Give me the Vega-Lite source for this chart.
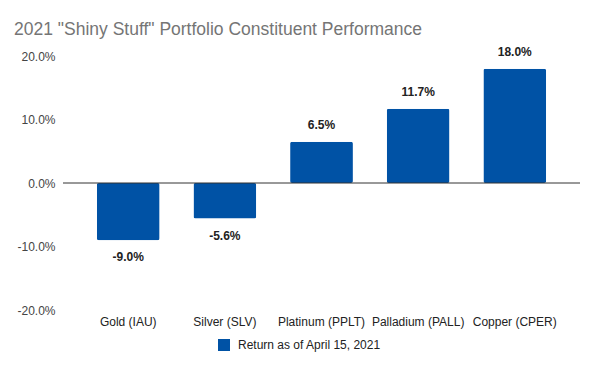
{
  "$schema": "https://vega.github.io/schema/vega-lite/v6.json",
  "autosize": {"type": "none"},
  "width": 517,
  "height": 254,
  "padding": {"left": 63, "top": 56, "right": 20, "bottom": 61},
  "background": "white",
  "title": {
    "text": "2021 \"Shiny Stuff\" Portfolio Constituent Performance",
    "anchor": "start",
    "frame": "group",
    "dx": -49,
    "offset": 7,
    "font": "Liberation Sans",
    "fontSize": 17.5,
    "fontWeight": "normal",
    "color": "#757575"
  },
  "config": {
    "view": {"stroke": null},
    "locale": {"number": {"decimal": ".", "thousands": ",", "grouping": [3], "currency": ["$", ""], "minus": "-"}},
    "font": "Liberation Sans"
  },
  "data": {
    "values": [
      {"metal": "Gold (IAU)", "value": -0.090, "series": "Return as of April 15, 2021"},
      {"metal": "Silver (SLV)", "value": -0.056, "series": "Return as of April 15, 2021"},
      {"metal": "Platinum (PPLT)", "value": 0.065, "series": "Return as of April 15, 2021"},
      {"metal": "Palladium (PALL)", "value": 0.117, "series": "Return as of April 15, 2021"},
      {"metal": "Copper (CPER)", "value": 0.180, "series": "Return as of April 15, 2021"}
    ]
  },
  "encoding": {
    "x": {
      "field": "metal",
      "type": "nominal",
      "sort": null,
      "scale": {"paddingInner": 0.35, "paddingOuter": 0.35},
      "axis": {
        "title": null,
        "domain": false,
        "ticks": false,
        "labelAngle": 0,
        "labelPadding": 6,
        "labelFontSize": 12,
        "labelColor": "#222222",
        "labelFont": "Liberation Sans"
      }
    },
    "y": {
      "field": "value",
      "type": "quantitative",
      "scale": {"domain": [-0.2, 0.2], "nice": false},
      "axis": {
        "title": null,
        "domain": false,
        "ticks": false,
        "grid": false,
        "values": [-0.2, -0.1, 0, 0.1, 0.2],
        "format": ".1%",
        "labelPadding": 8,
        "labelFontSize": 12,
        "labelColor": "#444444",
        "labelFont": "Liberation Sans"
      }
    }
  },
  "layer": [
    {
      "mark": {"type": "bar", "cornerRadius": 2},
      "encoding": {
        "color": {
          "field": "series",
          "type": "nominal",
          "scale": {"range": ["#0052a5"]},
          "legend": {
            "title": null,
            "orient": "none",
            "legendX": 155,
            "legendY": 283,
            "symbolType": "square",
            "symbolSize": 144,
            "symbolStrokeWidth": 0,
            "labelFontSize": 12,
            "labelColor": "#222222",
            "labelFont": "Liberation Sans",
            "labelOffset": 8,
            "padding": 0
          }
        }
      }
    },
    {
      "transform": [{"filter": "datum.value >= 0"}],
      "mark": {"type": "text", "dy": -17, "baseline": "middle", "fontSize": 12, "fontWeight": "bold", "color": "#222222", "font": "Liberation Sans"},
      "encoding": {"text": {"field": "value", "type": "quantitative", "format": ".1%"}}
    },
    {
      "transform": [{"filter": "datum.value < 0"}],
      "mark": {"type": "text", "dy": 17, "baseline": "middle", "fontSize": 12, "fontWeight": "bold", "color": "#222222", "font": "Liberation Sans"},
      "encoding": {"text": {"field": "value", "type": "quantitative", "format": ".1%"}}
    },
    {
      "data": {"values": [{"zero": 0}]},
      "mark": {"type": "rule", "color": "#333333", "strokeWidth": 1},
      "encoding": {"y": {"field": "zero", "type": "quantitative"}, "x": {"value": 0}, "x2": {"value": 517}}
    }
  ]
}
